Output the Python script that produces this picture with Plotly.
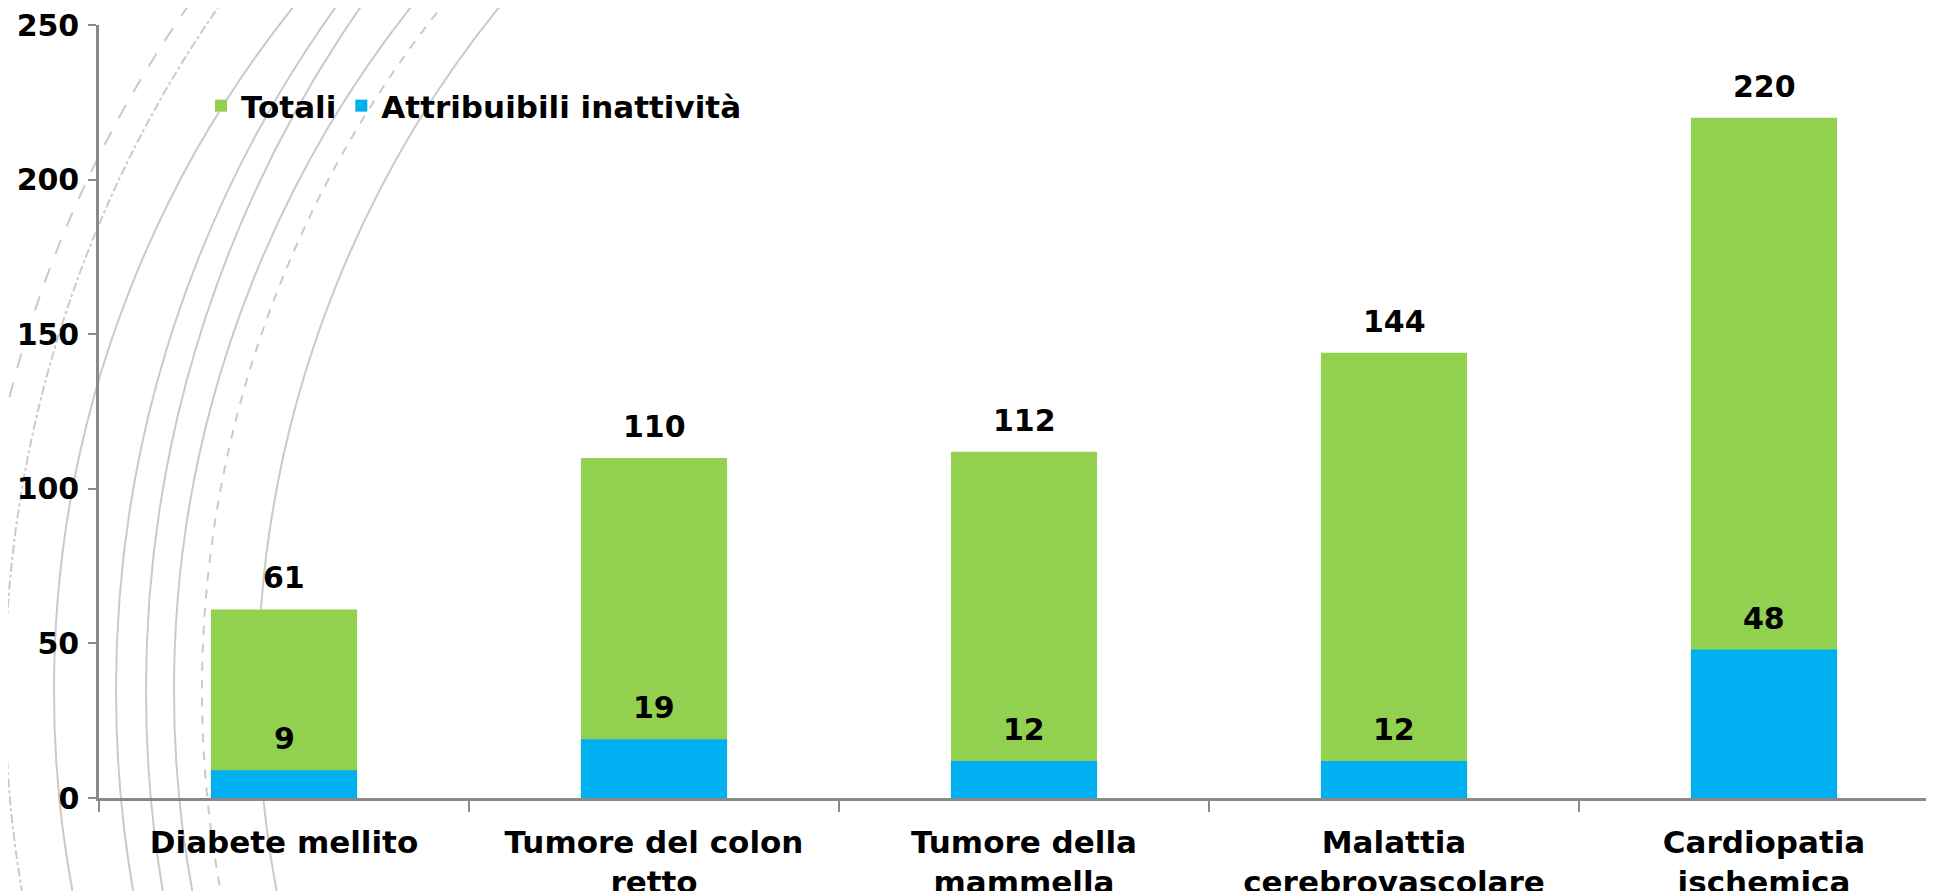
"""
Decessi totali e attribuibili all'inattività fisica — barre sovrapposte
"""

import plotly.graph_objects as go

GREEN      = "#92D050"
BLUE       = "#00B0F0"
AXIS_COLOR = "#898989"
ARC_COLOR  = "#cacaca"
FONT       = "DejaVu Sans"

# la pagina html ha un margine di 8px attorno alla figura
BODY = 8
W, H = 1934 - BODY, 891 - BODY
MARGIN = dict(l=99 - BODY, r=0, t=25 - BODY, b=93)

categorie = [
    "Diabete mellito",
    "Tumore del colon<br>retto",
    "Tumore della<br>mammella",
    "Malattia<br>cerebrovascolare",
    "Cardiopatia<br>ischemica",
]
totali = [61, 110, 112, 144, 220]
attribuibili = [9, 19, 12, 12, 48]
y_ticks = [0, 50, 100, 150, 200, 250]

# archi decorativi sullo sfondo: (cx, cy, r, stile) in pixel dello schermo
ARCS = [
    (1168, 690, 1195, "longdash"),
    (1205, 690, 1200, "dashdot"),
    (1148, 690, 1094, "solid"),
    (1287, 690, 1171, "solid"),
    (1340, 690, 1194, "solid"),
    (1276, 690, 1102, "solid"),
    (1296, 690, 1094, "dash"),
    (1345, 690, 1087, "solid"),
]

PLOT_W = W - MARGIN["l"] - MARGIN["r"]
PLOT_H = H - MARGIN["t"] - MARGIN["b"]


def _px_to_paper(px, py):
    """Pixel dello schermo -> coordinate paper."""
    px, py = px - BODY, py - BODY
    return (px - MARGIN["l"]) / PLOT_W, (H - MARGIN["b"] - py) / PLOT_H


def _arc_shapes():
    shapes = []
    for cx, cy, r, dash in ARCS:
        x0, y0 = _px_to_paper(cx - r, cy + r)
        x1, y1 = _px_to_paper(cx + r, cy - r)
        shapes.append(dict(
            type="circle", xref="paper", yref="paper",
            x0=x0, y0=y0, x1=x1, y1=y1,
            line=dict(color=ARC_COLOR, width=2, dash=dash),
            layer="below",
        ))
    return shapes


fig = go.Figure()

fig.add_trace(go.Bar(
    x=categorie, y=totali, name="Totali",
    marker=dict(color=GREEN, line=dict(width=0)),
))
fig.add_trace(go.Bar(
    x=categorie, y=attribuibili, name="Attribuibili inattività",
    marker=dict(color=BLUE, line=dict(width=0)),
))

# etichette dei valori sopra ciascuna barra
annotations = []
for serie in (totali, attribuibili):
    for cat, val in zip(categorie, serie):
        annotations.append(dict(
            x=cat, y=val, text=str(val), showarrow=False,
            yanchor="bottom", yshift=12,
            font=dict(family=FONT, size=30, color="black", weight="bold"),
        ))

leg_x, leg_y = _px_to_paper(201, 106)

fig.update_layout(
    width=W, height=H,
    barmode="overlay", bargap=0.605,
    paper_bgcolor="white", plot_bgcolor="rgba(0,0,0,0)",
    font=dict(family=FONT, size=30, color="black", weight="bold"),
    margin=dict(**MARGIN, pad=0, autoexpand=False),
    showlegend=True,
    legend=dict(
        orientation="h", x=leg_x, y=leg_y,
        xanchor="left", yanchor="middle",
        bgcolor="rgba(0,0,0,0)", font=dict(size=31),
        itemclick=False, traceorder="normal",
    ),
    xaxis=dict(
        range=[-0.5, -0.5 + PLOT_W / 370],
        showline=True, linecolor=AXIS_COLOR, linewidth=2.5,
        ticks="outside", tickson="boundaries", ticklen=11,
        tickcolor=AXIS_COLOR, tickwidth=2,
        showgrid=False, zeroline=False, automargin=False,
        ticklabelstandoff=15, ticklabeloverflow="allow",
        tickfont=dict(size=31),
    ),
    yaxis=dict(
        range=[0, 250], tickvals=y_ticks,
        showline=True, linecolor=AXIS_COLOR, linewidth=2.5,
        ticks="outside", ticklen=8, tickcolor=AXIS_COLOR, tickwidth=2,
        showgrid=False, zeroline=False, automargin=False,
        ticklabelstandoff=3, ticklabeloverflow="allow",
        tickfont=dict(size=30),
    ),
    shapes=_arc_shapes(),
    annotations=annotations,
)

fig.write_html("out.html")
